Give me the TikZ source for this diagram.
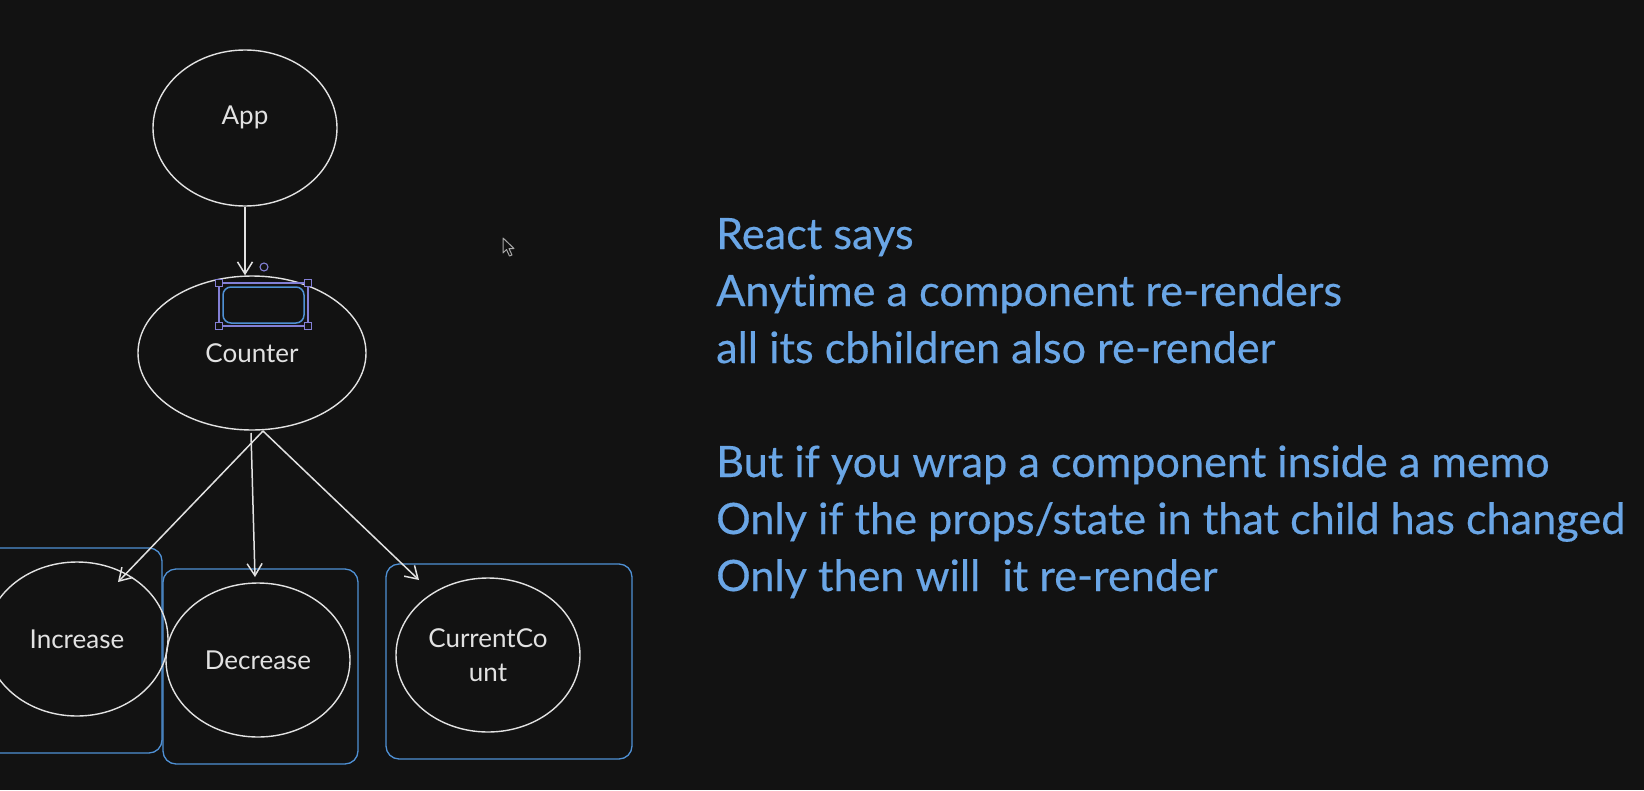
\documentclass[tikz,border=0pt]{standalone}
\usepackage{fontspec}
\setmainfont{Lato}[Ligatures={NoCommon}]
\newfontfamily\notefont{Lato}[Ligatures={NoCommon}, FakeBold=0.35]
\usetikzlibrary{shapes.geometric,arrows.meta}
\definecolor{bgc}{HTML}{121212}
\definecolor{inkc}{HTML}{E2E2E2}
\definecolor{boxc}{HTML}{4F90D4}
\definecolor{txtc}{HTML}{6AA6E6}
\definecolor{selc}{HTML}{8380D6}
\definecolor{curc}{HTML}{A8A8A8}
\tikzset{
  comp/.style={draw=inkc, line width=1.4pt, ellipse, inner sep=0pt,
    minimum width=184pt, minimum height=154pt, text=inkc,
    font=\fontsize{26}{34}\selectfont, align=center},
  memobox/.style={draw=boxc, line width=1.3pt, rounded corners=13pt},
  link/.style={draw=inkc, line width=1.5pt,
    -{Straight Barb[length=12pt,width=15pt,line width=1.5pt]}},
  note/.style={anchor=base west, inner sep=0pt, text=txtc,
    font=\notefont\fontsize{43.2}{57}\selectfont},
  handle/.style={draw=selc, fill=bgc, line width=1.2pt, minimum size=7pt,
    inner sep=0pt, rectangle}
}
\begin{document}
\begin{tikzpicture}[x=1pt,y=-1pt]
\fill[bgc] (0,0) rectangle (1644,790);
\useasboundingbox (0,0) rectangle (1644,790);

% memo boxes
\draw[memobox] (-20,548) rectangle (162,753);
\draw[memobox] (163,569) rectangle (358,764);
\draw[memobox] (386,564) rectangle (632,759);

% components
\node[comp, minimum width=184pt, minimum height=156pt,
  label={[name=appText, text=inkc, font=\fontsize{26}{34}\selectfont, yshift=11pt]center:App}]
  (app) at (245,128) {};
\node[comp, minimum width=228pt, minimum height=154pt] (counter) at (252,353) {Counter};
\node[comp, minimum width=182pt] (inc) at (77,639) {Increase};
\node[comp] (dec) at (258,660) {Decrease};
\node[comp] (cur) at (488,655) {CurrentCo\\unt};

% selected element inside Counter
\draw[selc, line width=1.2pt] (219,283) rectangle (308,326);
\draw[boxc, line width=1.5pt, rounded corners=8pt] (223,287) rectangle (304,323);
\node[handle] (h1) at (219,283) {};
\node[handle] (h2) at (308,283) {};
\node[handle] (h3) at (219,326) {};
\node[handle] (h4) at (308,326) {};
\draw[selc, line width=1.1pt] (264,267) circle (4pt);

% connector end points
\coordinate (cstartL) at (263,431);
\coordinate (cstartM) at (251,433);
\coordinate (incTip) at (118,582);
\coordinate (decTip) at (255,577);
\coordinate (curTip) at (419,580);

\draw[link] (app.south) -- (app.south |- counter.north);
\draw[link] (cstartL) -- (incTip);
\draw[link] (cstartM) -- (decTip);
\draw[link] (cstartL) -- (curTip);

% mouse cursor
\draw[curc, fill=bgc, line width=1pt, line join=round]
  (503,238) -- (503,253) -- (506.5,249.5) -- (509.5,256) -- (512,255) -- (509,248.5) -- (514,248.5) -- cycle;

% notes
\node[note] (n1) at (716,249) {React says};
\node[note] (n2) at (716,306) {Anytime a component re-renders};
\node[note] (n3) at (716,363) {all its cbhildren also re-render};
\node[note] (n4) at (716,477) {But if you wrap a component inside a memo};
\node[note] (n5) at (716,534) {Only if the props/state in that child has changed};
\node[note] (n6) at (716,591) {Only then will\ \ it re-render};
\end{tikzpicture}
\end{document}
